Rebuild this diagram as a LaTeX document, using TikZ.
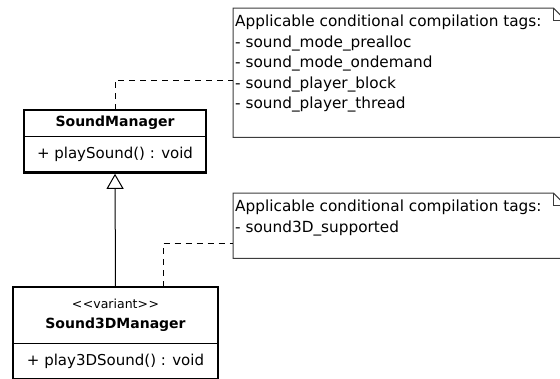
\documentclass[tikz,border=0pt]{standalone}
\usepackage{fontspec}
\setmainfont{DejaVu Sans}
\usetikzlibrary{positioning,arrows.meta,calc}
\definecolor{notegray}{RGB}{60,60,60}

\begin{document}
\begin{tikzpicture}[x=1pt,y=-1pt,
        clsname/.style={inner sep=0pt, align=center, font=\fontsize{14}{20}\selectfont\bfseries},
        clsops/.style={inner sep=0pt, minimum height=36pt, font=\fontsize{15}{18}\selectfont},
        clsborder/.style={draw=black, line width=2.4pt},
        clsline/.style={draw=black, line width=1pt},
        notebox/.style={anchor=north west, inner sep=0pt, minimum width=332pt},
        noteline/.style={draw=notegray, line width=1pt},
        notetext/.style={anchor=north west, inner sep=0pt, align=left, font=\fontsize{15.3}{20.5}\selectfont},
        dep/.style={draw=black, line width=1pt, dash pattern=on 6pt off 5pt},
        gen/.style={draw=black, line width=1pt, -{Triangle[open, length=15pt, width=17pt]}, shorten >=1.2pt}
      ]
        \useasboundingbox (0,0) rectangle (560,378);
        \clip (0,0) rectangle (560,378);

        % classes
        \node[clsname, minimum width=182pt, minimum height=26pt] at (115,123) (smname) {SoundManager};
        \node[clsops, minimum width=182pt, below=0pt of smname] (smops) {+ playSound() : void};
        \node[clsname, minimum width=205pt, minimum height=56pt] at (115.5,315) (s3dname)
          {{\fontsize{12.5}{14}\selectfont\mdseries <\kern0.5pt<variant>\kern0.5pt>}\\Sound3DManager};
        \node[clsops, minimum width=205pt, below=0pt of s3dname] (s3dops) {+ play3DSound() : void};
        \foreach \c in {sm,s3d} {
          \draw[clsborder] (\c name.north west) rectangle (\c ops.south east);
          \draw[clsline] (\c name.south west) -- (\c name.south east);
        }

        % notes
        \node[notebox, minimum height=129pt] at (233,8) (note1) {};
        \node[notebox, minimum height=65pt] at (233,193) (note2) {};
        \foreach \n in {note1,note2} {
          \draw[noteline] (\n.north west) -- ([xshift=-12pt]\n.north east) -- ([yshift=-12pt]\n.north east)
            |- (\n.south west) -- cycle;
          \draw[noteline] ([xshift=-12pt]\n.north east) |- ([yshift=-12pt]\n.north east);
        }
        \node[notetext] at (235,15) (note1txt) {Applicable conditional compilation tags:\\
          - sound\_mode\_prealloc\\- sound\_mode\_ondemand\\- sound\_player\_block\\- sound\_player\_thread};
        \node[notetext] at (235,200) (note2txt) {Applicable conditional compilation tags:\\- sound3D\_supported};

        % connectors
        \coordinate (note1in) at (233,80);
        \coordinate (note2in) at (233,243);
        \draw[dep] (smname.north) |- (note1in);
        \draw[dep] ([xshift=48pt]s3dname.north) |- (note2in);
        \draw[gen] (s3dname.north) -- (smops.south);
      \end{tikzpicture}
\end{document}
